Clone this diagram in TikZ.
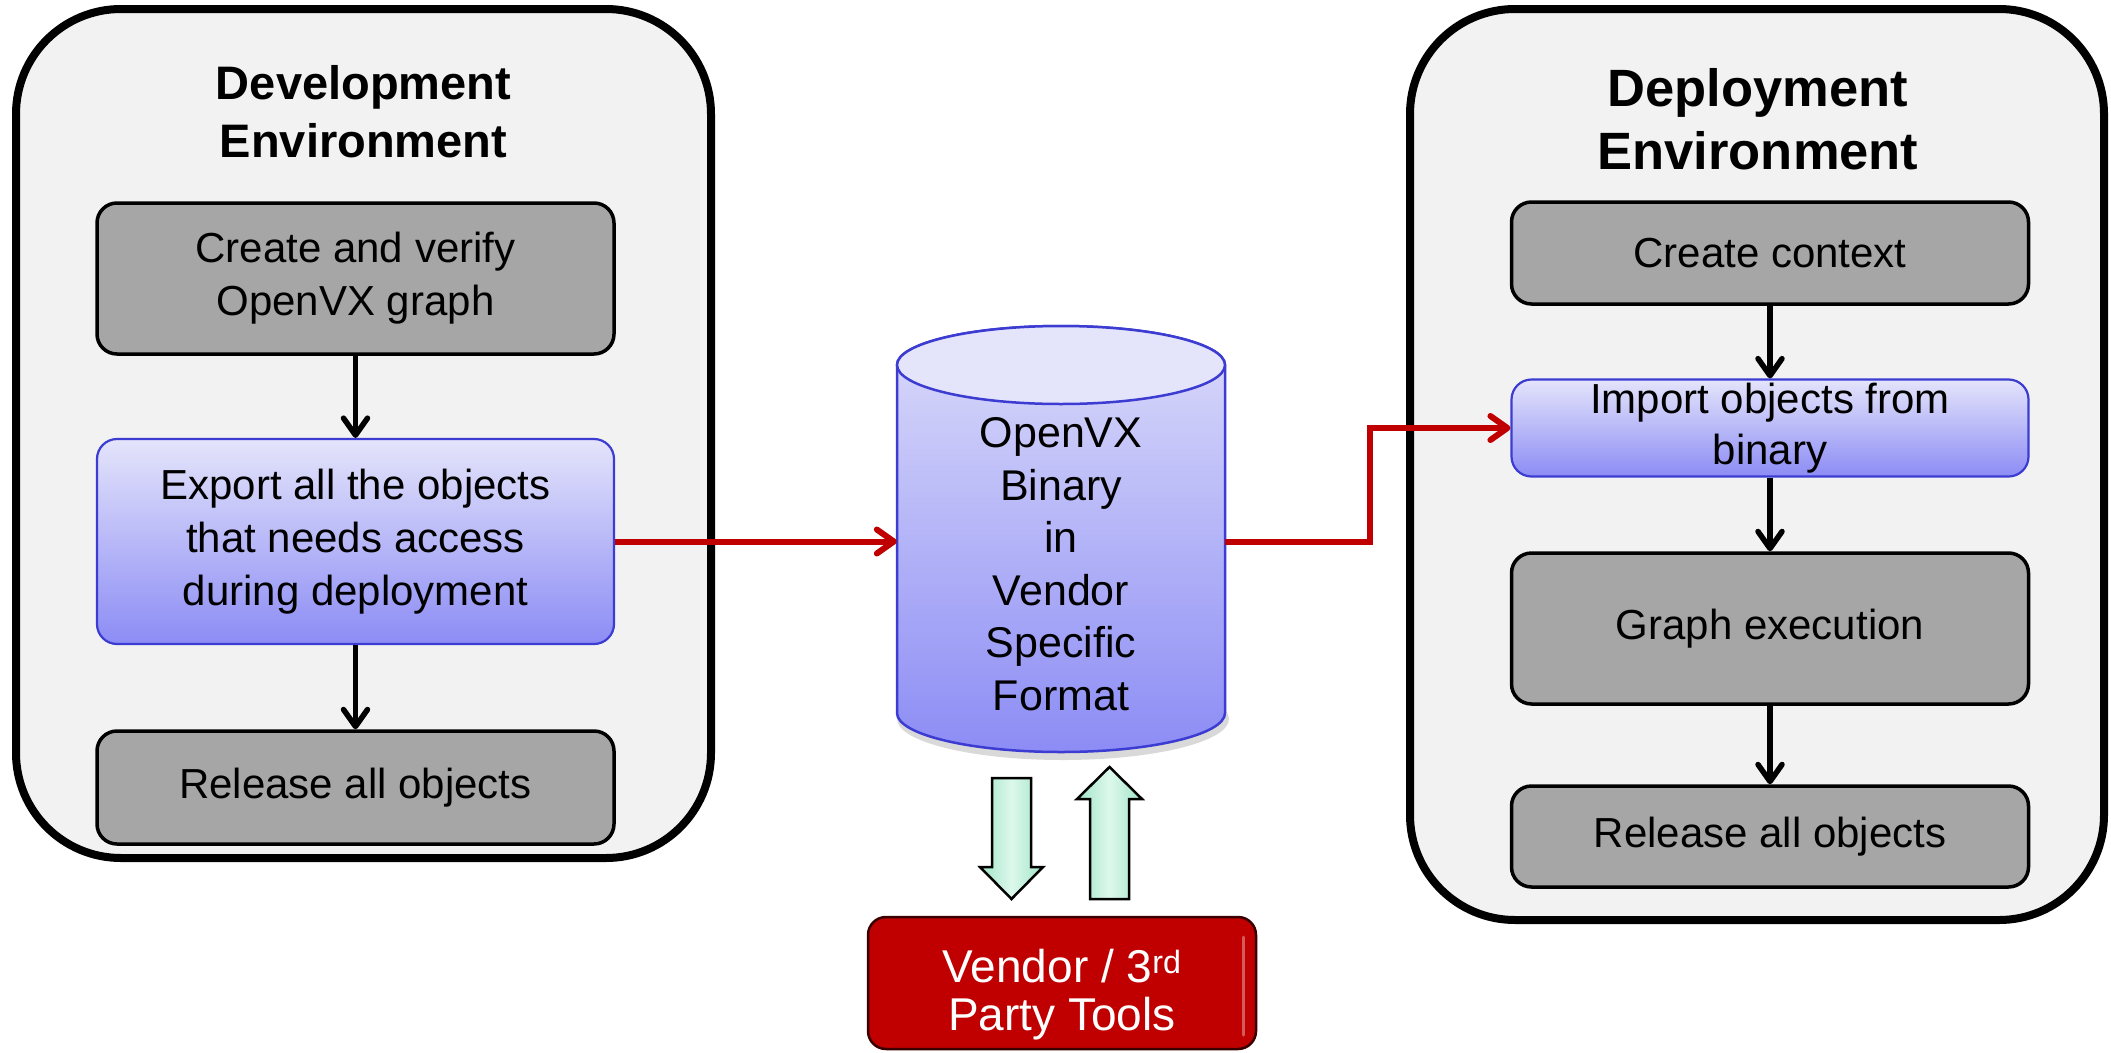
\documentclass[tikz,border=0pt]{standalone}
\usepackage{fontspec}
\setmainfont{Liberation Sans}
\usetikzlibrary{arrows.meta}

\definecolor{panelfill}{HTML}{F2F2F2}
\definecolor{stepgrey}{HTML}{A6A6A6}
\definecolor{bluetop}{HTML}{E4E4FB}
\definecolor{bluebot}{HTML}{8C8CF5}
\definecolor{blueedge}{HTML}{3C3CD2}
\definecolor{flowred}{HTML}{C00000}
\definecolor{mint}{HTML}{A0E4C6}
\definecolor{mintlight}{HTML}{DDF8EC}
\definecolor{tooledge}{HTML}{3A0000}

\newcommand\boxfont{\fontsize{42}{53}\selectfont}
\newcommand\devtitlefont{\fontsize{47}{58}\selectfont\bfseries}
\newcommand\deptitlefont{\fontsize{52.5}{63}\selectfont\bfseries}
\newcommand\binfont{\fontsize{43}{52.5}\selectfont}
\newcommand\toolfont{\fontsize{46}{47}\selectfont}

\tikzset{
  x=1pt, y=1pt,
  panelbox/.style={draw=black, line width=8pt, fill=panelfill, rounded corners=105pt, inner sep=0pt},
  stepbox/.style={draw=black, line width=3.5pt, fill=stepgrey, rounded corners=20pt,
    minimum width=517pt, align=center, inner sep=0pt, font=\boxfont},
  bluebox/.style={draw=blueedge, line width=2.2pt, top color=bluetop, bottom color=bluebot,
    rounded corners=20pt, minimum width=517pt, align=center, inner sep=0pt, font=\boxfont},
  titletext/.style={align=center, inner sep=0pt},
  flow/.style={draw=black, line width=5.5pt, -{Straight Barb[length=17pt,width=24pt,round]}},
  redflow/.style={draw=flowred, line width=6pt, -{Straight Barb[length=17pt,width=24pt,round]}},
  blockarrow/.style={draw=black, line width=2.5pt, line join=miter,
    left color=mint, right color=mint, middle color=mintlight},
}

\begin{document}
\begin{tikzpicture}
\useasboundingbox (0,0) rectangle (2111,-1052);
\fill[white] (0,0) rectangle (2111,-1052);

% Development environment panel
\node[panelbox, minimum width=695pt, minimum height=849pt] (dev) at (363.5,-433.5) {};
\node[titletext, font=\devtitlefont] (devtitle) at (363.5,-112) {Development\\Environment};
\node[stepbox, minimum height=151pt] (create) at (355.5,-278.5) {Create and verify\\OpenVX graph};
\node[bluebox, minimum height=205pt] (export) at (355.5,-541.5) {Export all the objects\\that needs access\\during deployment};
\node[stepbox, minimum height=113pt] (relA) at (355.5,-787.5) {Release all objects};
\draw[flow] (create) -- (export);
\draw[flow] (export) -- (relA);

% Deployment environment panel
\node[panelbox, minimum width=694pt, minimum height=911pt] (dep) at (1757,-464.5) {};
\node[titletext, font=\deptitlefont] (deptitle) at (1758,-119) {Deployment\\Environment};
\node[stepbox, minimum height=102pt] (context) at (1770,-253) {Create context};
\node[bluebox, minimum height=97pt, font=\fontsize{42}{51}\selectfont] (import) at (1770,-428) {Import objects from\\binary};
\node[stepbox, minimum height=151pt] (exec) at (1770,-628.5) {Graph execution};
\node[stepbox, minimum height=101pt] (relB) at (1770,-836.5) {Release all objects};
\draw[flow] (context) -- (import);
\draw[flow] (import) -- (exec);
\draw[flow] (exec) -- (relB);

% Binary store drawn as a cylinder
\fill[black, opacity=0.15] (1063,-719) ellipse[x radius=166pt, y radius=41pt];
\path[draw=blueedge, line width=2.5pt, top color=bluetop!90!bluebot, bottom color=bluebot]
  (897,-365) -- (897,-713) arc[start angle=180, end angle=360, x radius=164pt, y radius=39pt]
  -- (1225,-365) arc[start angle=0, end angle=180, x radius=164pt, y radius=39pt] -- cycle;
\draw[blueedge, line width=2.5pt, fill=bluetop] (1061,-365) ellipse[x radius=164pt, y radius=39pt];
\node[align=center, inner sep=0pt, minimum width=328pt, font=\binfont] (bin) at (1061,-564)
  {OpenVX\\Binary\\in\\Vendor\\Specific\\Format};

% Export / import flow
\draw[redflow] (export.east) -- (export.east -| bin.west);
\draw[redflow] (export.east -| bin.east) -- ++(145,0) |- (import.west);

% Exchange with external tools
\path[blockarrow] (992,-778) -- (1031,-778) -- (1031,-867) -- (1043,-867) -- (1011.5,-899)
  -- (980,-867) -- (992,-867) -- cycle;
\path[blockarrow] (1109.5,-767) -- (1142,-799) -- (1129,-799) -- (1129,-899) -- (1090,-899)
  -- (1090,-799) -- (1077,-799) -- cycle;

\node[draw=tooledge, line width=2.5pt, fill=flowred, rounded corners=18pt,
  minimum width=388pt, minimum height=132pt, inner sep=0pt,
  text=white, font=\toolfont] (tools) at (1062,-983)
  {\raisebox{-20pt}[0pt][0pt]{\begin{tabular}{@{}c@{}}Vendor / 3\textsuperscript{rd}\\Party Tools\end{tabular}}};
\draw[white, opacity=0.35, line width=3pt, line cap=round] (1243,-937) -- (1243,-1035);
\end{tikzpicture}
\end{document}
